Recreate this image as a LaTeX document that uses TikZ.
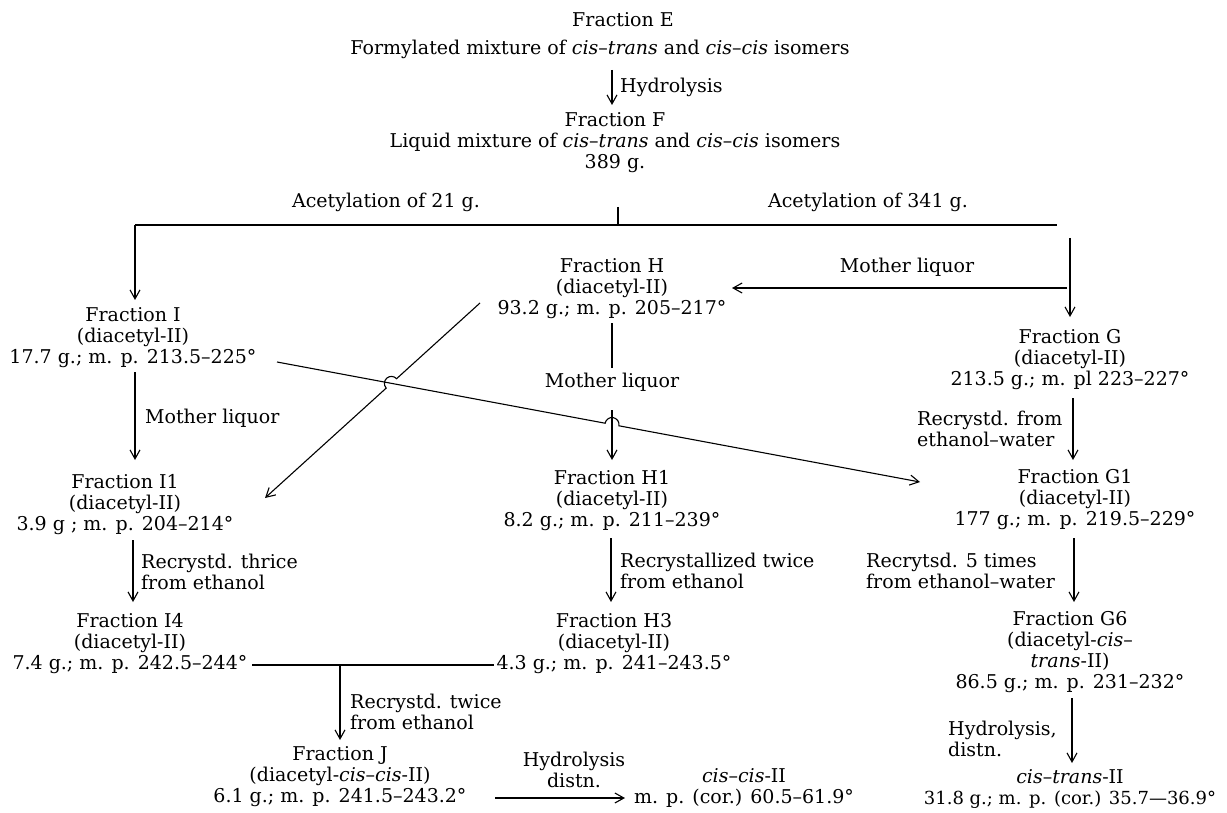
\documentclass[tikz,border=0pt]{standalone}
\usepackage{fontspec}
\setmainfont{DejaVu Serif}
\usetikzlibrary{arrows.meta,calc}
\begin{document}
\begin{tikzpicture}[x=1pt,y=-1pt,
  every node/.style={font=\fontsize{19}{21}\selectfont, inner sep=0pt, align=center},
  lbl/.style={anchor=west, align=left},
  ln/.style={line width=1.1pt},
  arr/.style={ln,-{Straight Barb[length=9pt,width=10pt,line width=1.1pt]}},
]
\useasboundingbox (0,0) rectangle (1227,813);

% ---------- top ----------
\node (E) at (623,20) {Fraction E};
\node (E2) at (600,49) {Formylated mixture of \textit{cis}–\textit{trans} and \textit{cis}–\textit{cis} isomers};
\node (F) at (615,143) {Fraction F\\Liquid mixture of \textit{cis}–\textit{trans} and \textit{cis}–\textit{cis} isomers\\389 g.};
\coordinate (cx) at (612,0);
\draw[arr] (cx |- 0,70) -- (cx |- 0,105);
\node[lbl] (hyd) at (620,87) {Hydrolysis};

\node (A21) at (386,202) {Acetylation of 21 g.};
\node (A341) at (868,202) {Acetylation of 341 g.};
\coordinate (jL) at (135,225);
\coordinate (jR) at (1057,225);
\coordinate (jT) at (618,207);
\draw[ln] (jL) -- (jR);
\draw[ln] (jT) -- (jT |- jL);

% ---------- fractions ----------
\node (I) at (133,338) {Fraction I\\(diacetyl-II)\\17.7 g.; m. p. 213.5–225°};
\node (H) at (612,289) {Fraction H\\(diacetyl-II)\\93.2 g.; m. p. 205–217°};
\node (G) at (1070,360) {Fraction G\\(diacetyl-II)\\213.5 g.; m. pl 223–227°};
\node (ML1) at (907,267) {Mother liquor};

\coordinate (gT) at (1070,238);
\coordinate (mR) at (1067,288);
\draw[arr] (jL) -- (jL |- 0,300);
\draw[arr] (gT) -- (gT |- 0,317);
\draw[arr] (mR) -- (mR -| 732,0);

\node (I1) at (125,505) {Fraction I1\\(diacetyl-II)\\3.9 g ; m. p. 204–214°};
\node (H1) at (612,501) {Fraction H1\\(diacetyl-II)\\8.2 g.; m. p. 211–239°};
\node (G1) at (1075,500) {Fraction G1\\(diacetyl-II)\\177 g.; m. p. 219.5–229°};

\node[lbl] (ML3) at (145,418) {Mother liquor};
\draw[arr] (jL |- 0,372) -- (jL |- 0,460);

\node (ML2) at (612,382) {Mother liquor};
\draw[ln] (H.south) ++(0,4) -- (612,368);
\draw[arr] (612,410) -- (612,460);

\node[lbl] (RG) at (917,429) {Recrystd. from\\ethanol–water};
\draw[arr] (1073,398) -- (1073,460);

% crossing lines with hops
\coordinate (hs) at (480,303);
\coordinate (ie) at (265,498);
\coordinate (P1) at (391.4,383.4);
\draw[arr] (hs) -- ($(P1)!7pt!(hs)$) arc[start angle=42.2, end angle=222.2, radius=7pt] -- (ie);
\coordinate (lS) at (277,362);
\coordinate (lE) at (920,482);
\coordinate (P2) at (612,424.5);
\draw[arr] (lS) -- ($(P2)!7pt!(lS)$) arc[start angle=169.43, end angle=-10.57, radius=7pt] -- (lE);

% ---------- lower ----------
\node[lbl] (RT) at (141,572) {Recrystd. thrice\\from ethanol};
\draw[arr] (133,540) -- (133,602);
\node[lbl] (RTW) at (620,571) {Recrystallized twice\\from ethanol};
\draw[arr] (611,538) -- (611,602);
\node[lbl] (R5) at (866,571) {Recrytsd. 5 times\\from ethanol–water};
\draw[arr] (1074,538) -- (1074,602);

\node (I4) at (130,644) {Fraction I4\\(diacetyl-II)\\7.4 g.; m. p. 242.5–244°};
\node (H3) at (614,644) {Fraction H3\\(diacetyl-II)\\4.3 g.; m. p. 241–243.5°};
\node (G6) at (1070,652) {Fraction G6\\(diacetyl-\textit{cis}–\\\textit{trans}-II)\\86.5 g.; m. p. 231–232°};

\coordinate (jI) at (252,665);
\coordinate (jH) at (494,665);
\draw[ln] (jI) -- (jH);
\node[lbl] (R2) at (350,712) {Recrystd. twice\\from ethanol};
\draw[arr] (340,665) -- (340,740);

\node[lbl] (HD2) at (948,739) {Hydrolysis,\\distn.};
\draw[arr] (1072,698) -- (1072,763);

\node (J) at (340,777) {Fraction J\\(diacetyl-\textit{cis}–\textit{cis}-II)\\6.1 g.; m. p. 241.5–243.2°};
\node (HD) at (574,770) {Hydrolysis\\distn.};
\draw[arr] (495,798) -- (625,798);
\node (CC) at (744,788) {\textit{cis}–\textit{cis}-II\\m. p. (cor.) 60.5–61.9°};
\node (CT) at (1070,789) {\textit{cis}–\textit{trans}-II\\{\fontsize{18}{21}\selectfont 31.8 g.; m. p. (cor.) 35.7—36.9°}};
\end{tikzpicture}
\end{document}
